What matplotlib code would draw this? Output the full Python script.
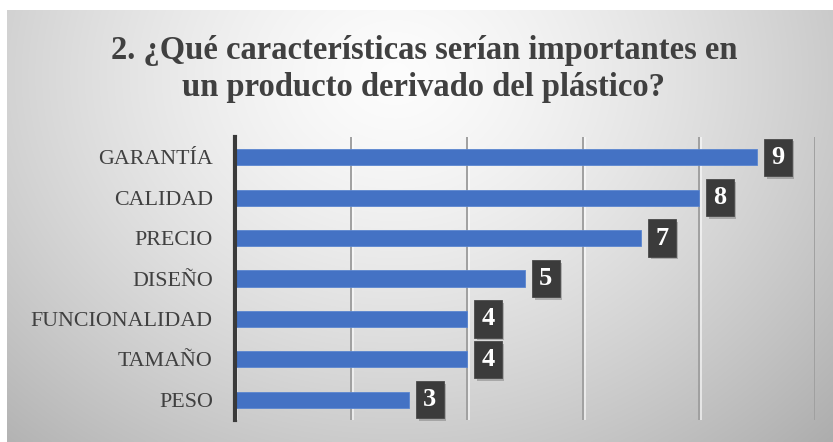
import numpy as np
import matplotlib
matplotlib.use("Agg")
import matplotlib.pyplot as plt
from matplotlib import patheffects as pe

# Survey results: important features in a product made from recycled plastic
categories = ["GARANTÍA", "CALIDAD", "PRECIO", "DISEÑO", "FUNCIONALIDAD", "TAMAÑO", "PESO"]
values = [9, 8, 7, 5, 4, 4, 3]
title = "2. ¿Qué características serían importantes en\nun producto derivado del plástico?"

W, H, DPI = 833, 442, 100
fig = plt.figure(figsize=(W / DPI, H / DPI), dpi=DPI)
fig.patch.set_facecolor("white")

# Soft radial gradient panel behind the chart
bg = fig.add_axes([7 / W, 0, 1 - 7 / W, 1 - 10 / H], zorder=0)
yy, xx = np.mgrid[0:1:300j, 0:1:600j]
r = np.sqrt(((xx - 0.47) / 0.62) ** 2 + ((yy - 0.15) / 1.0) ** 2)
shade = 0.99 - 0.24 * np.clip(r, 0, 1.2) ** 1.4
bg.imshow(np.dstack([shade] * 3), aspect="auto", extent=[0, 1, 1, 0], interpolation="bicubic")
bg.set_axis_off()

fig.text(424 / W, 1 - 69 / H, title, ha="center", va="center",
         fontsize=23.5, fontweight="bold", family="Liberation Serif",
         color="#404040", linespacing=1.22)

ax = fig.add_axes([235 / W, 22 / H, (815 - 235) / W, (420 - 137) / H], zorder=1)
ax.set_facecolor("none")
y = np.arange(len(categories))
ax.barh(y, values, height=0.4, color="#4472C4", edgecolor="#5b86d0", linewidth=0.6, zorder=3)
ax.set_ylim(len(categories) - 0.5, -0.5)
ax.set_xlim(0, 10)
ax.set_xticks(np.arange(0, 11, 2))
ax.xaxis.grid(True, color="#a0a0a0", linewidth=1.4, zorder=0,
              path_effects=[pe.SimpleLineShadow(offset=(1.2, 0), shadow_color="white", alpha=0.6), pe.Normal()])
ax.tick_params(axis="x", length=0, labelbottom=False)
ax.tick_params(axis="y", length=0, pad=16)
ax.set_yticks(y)
ax.set_yticklabels(categories, family="Liberation Serif", fontsize=15.8, color="#404040")
for s in ["top", "right", "bottom"]:
    ax.spines[s].set_visible(False)
ax.spines["left"].set_color("#3a3a3a")
ax.spines["left"].set_linewidth(3)
ax.spines["left"].set_zorder(4)

for yi, v in zip(y, values):
    ann = ax.annotate(str(v), xy=(v, yi), xytext=(15, 0), textcoords="offset points",
                      ha="center", va="center", fontsize=19, fontweight="bold",
                      family="Liberation Serif", color="white", zorder=5,
                      bbox=dict(boxstyle="square,pad=0.27", fc="#3b3b3b", ec="#4a4a4a", lw=0.6))
    ann.get_bbox_patch().set_path_effects(
        [pe.SimplePatchShadow(offset=(2, -2), shadow_rgbFace="#666666", alpha=0.4), pe.Normal()])

fig.savefig("out.png", dpi=DPI)
